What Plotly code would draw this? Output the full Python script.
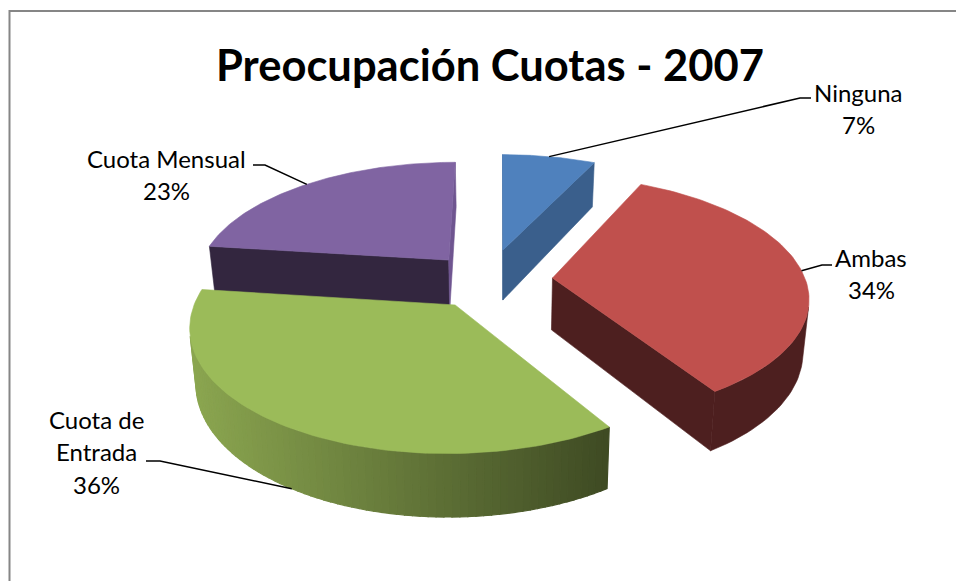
import math
import plotly.graph_objects as go

# ---- data ----
categories = ["Ninguna", "Ambas", "Cuota de Entrada", "Cuota Mensual"]
values = [7, 34, 36, 23]
title_text = "Preocupación Cuotas - 2007"

# ---- styles ----
top_colors = ["#4F81BD", "#C0504D", "#9BBB59", "#8064A2"]
wall_colors = [("#3A5F8C", "#3A5F8C"), ("#4D1F1F", "#4D1F1F"), ("#8BA650", "#3E4A23"), ("#33263F", "#33263F")]
cut_front_colors = ["#3A5F8C", "#4D1F1F", "#3E4A23", "#33263F"]
cut_back_colors = ["#3A5F8C", "#4D1F1F", "#3E4A23", "#6F5590"]
draw_order = [3, 0, 1, 2]

# ---- pie geometry ----
explode_x = [0.012, 0.208, -0.172, -0.208]
explode_y = [0.264, 0.017, -0.205, 0.173]
VX, Y0, SCALE_X, SCALE_Y, PERSP = 500, 280, 253, 118, 0.15
DEPTH, SHRINK = 52, 0.98


def project(X, Y, low=False):
    s = 1 / (1 + PERSP * Y)
    sx = SCALE_X * X * s
    sy = Y0 - SCALE_Y * Y * s
    if low:
        return VX + sx * SHRINK, sy + DEPTH * s
    return VX + sx, sy


def rim(i, deg, low=False):
    a = math.radians(deg)
    return project(explode_x[i] + math.sin(a), explode_y[i] + math.cos(a), low)


def apex(i, low=False):
    return project(explode_x[i], explode_y[i], low)


def orient(pts):
    return sum(pts[k][0] * pts[(k + 1) % len(pts)][1] - pts[(k + 1) % len(pts)][0] * pts[k][1] for k in range(len(pts)))


def mix(c1, c2, t):
    a = [int(c1[k:k + 2], 16) for k in (1, 3, 5)]
    b = [int(c2[k:k + 2], 16) for k in (1, 3, 5)]
    return "rgb(%d,%d,%d)" % tuple(round(a[k] + (b[k] - a[k]) * t) for k in range(3))


fig = go.Figure()


def poly(pts, color, width=0.6):
    fig.add_trace(go.Scatter(
        x=[p[0] for p in pts] + [pts[0][0]], y=[p[1] for p in pts] + [pts[0][1]],
        mode="lines", fill="toself", fillcolor=color,
        line=dict(color=color, width=width), hoverinfo="skip", showlegend=False))


total = sum(values)
starts, ends, c = [], [], 0
for v in values:
    starts.append(c / total * 360)
    c += v
    ends.append(c / total * 360)

for i in draw_order:
    a1, a2 = starts[i], ends[i]
    q1 = [apex(i), rim(i, a1), rim(i, a1, True), apex(i, True)]
    q2 = [apex(i), rim(i, a2), rim(i, a2, True), apex(i, True)]
    if orient(q1) < 0:
        poly(q1, cut_front_colors[i])
    if orient(q2) > 0:
        poly(q2, cut_back_colors[i])
    steps = max(int((a2 - a1) / 1.5), 1)
    angles = [a1 + (a2 - a1) * k / steps for k in range(steps + 1)]
    xs_all = [rim(i, b)[0] for b in angles]
    visible = []
    for b1, b2 in zip(angles[:-1], angles[1:]):
        q = [rim(i, b1), rim(i, b2), rim(i, b2, True), rim(i, b1, True)]
        if orient(q) < 0:
            visible.append((b1, b2, q))
    if wall_colors[i][0] == wall_colors[i][1]:
        if visible:
            run = [visible[0][0]] + [v[1] for v in visible]
            poly([rim(i, b) for b in run] + [rim(i, b, True) for b in reversed(run)], wall_colors[i][0])
    else:
        for b1, b2, q in visible:
            xm = (q[0][0] + q[1][0]) / 2
            t = (xm - min(xs_all)) / (max(xs_all) - min(xs_all))
            poly(q, mix(*wall_colors[i], t), 1.2)
    top = [apex(i)] + [rim(i, a1 + (a2 - a1) * k / 90) for k in range(91)]
    poly(top, top_colors[i])

# ---- labels and leaders ----
label_lines = [["Ninguna"], ["Ambas"], ["Cuota de", "Entrada"], ["Cuota Mensual"]]
label_x = [858, 871, 96, 166]
label_y = [92, 257, 419, 158]
LINE_GAP = 32.5
LABEL_SIZE = 24
elbows = [[(800, 98), (811, 98)], [(822, 265), (832, 265)], [(160, 461), (146, 461)], [(265, 165), (253, 165)]]
anchor_low = [False, False, True, False]

for i in range(4):
    mid = (starts[i] + ends[i]) / 2
    anchor = rim(i, mid, anchor_low[i])
    pts = [anchor] + elbows[i]
    fig.add_trace(go.Scatter(x=[p[0] for p in pts], y=[p[1] for p in pts], mode="lines",
                             line=dict(color="#000000", width=1.5), hoverinfo="skip", showlegend=False))
    lines = label_lines[i] + [f"{values[i]}%"]
    for n, text in enumerate(lines):
        fig.add_annotation(x=label_x[i], y=label_y[i] + n * LINE_GAP, text=text, showarrow=False,
                           xanchor="center", yanchor="middle",
                           font=dict(family="Lato", size=LABEL_SIZE, color="#000000"))

fig.add_annotation(x=489.5, y=64, text=f"<b>{title_text}</b>", showarrow=False, xanchor="center", yanchor="middle",
                   font=dict(family="Lato", size=43.5, color="#000000"))

fig.add_shape(type="rect", x0=9.5, y0=11, x1=990, y1=620, line=dict(color="#868686", width=2), layer="below")

fig.update_layout(
    width=956, height=581, margin=dict(l=0, r=0, t=0, b=0), paper_bgcolor="#FFFFFF", plot_bgcolor="#FFFFFF",
    xaxis=dict(range=[0, 956], visible=False, fixedrange=True),
    yaxis=dict(range=[581, 0], visible=False, fixedrange=True),
    showlegend=False)

fig.write_html("out.html", post_script="document.body.style.margin='0';document.documentElement.style.overflow='hidden';",
               config={"displayModeBar": False})
